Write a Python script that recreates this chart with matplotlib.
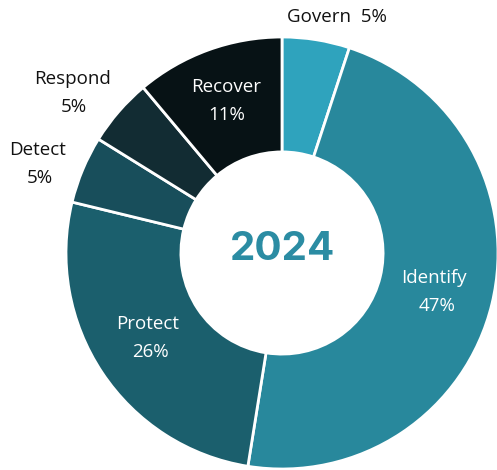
import matplotlib
matplotlib.use("Agg")
import matplotlib.pyplot as plt

categories = ["Govern", "Identify", "Protect", "Detect", "Respond", "Recover"]
values = [5, 47, 26, 5, 5, 11]
colors = ["#2fa3bd", "#28889c", "#1b5f6d", "#184e5b", "#122c33", "#071215"]
center_title = "2024"

W, H = 497, 470
fig = plt.figure(figsize=(W / 100, H / 100), dpi=100)
ax = fig.add_axes([0, 0, 1, 1])

cx, cy = 282, H - 253
R = 216
ax.pie(values, colors=colors, startangle=90, counterclock=False,
       center=(cx, cy), radius=R, frame=True,
       wedgeprops=dict(width=R * 0.532, edgecolor="white", linewidth=2))
ax.set_xlim(0, W)
ax.set_ylim(0, H)
ax.set_aspect("equal")
ax.axis("off")

font = "Open Sans"
ax.text(283, H - 260, center_title, ha="center", va="baseline", fontsize=29,
        fontweight="bold", color="#2b8ca3", family="Inter")

lab = dict(ha="center", va="center", fontsize=13.5, family=font)
ax.text(337, H - 17, f"{categories[0]}  {values[0]}%", color="#111111", **lab)
ax.text(434, H - 278, categories[1], color="white", **lab)
ax.text(437, H - 306, f"{values[1]}%", color="white", **lab)
ax.text(148, H - 324, categories[2], color="white", **lab)
ax.text(150, H - 352, f"{values[2]}%", color="white", **lab)
ax.text(38, H - 150, categories[3], color="#111111", **lab)
ax.text(40, H - 178, f"{values[3]}%", color="#111111", **lab)
ax.text(72, H - 79, categories[4], color="#111111", **lab)
ax.text(74, H - 107, f"{values[4]}%", color="#111111", **lab)
ax.text(226, H - 87, categories[5], color="white", **lab)
ax.text(227, H - 115, f"{values[5]}%", color="white", **lab)

fig.savefig("out.png", dpi=100, facecolor="white")
